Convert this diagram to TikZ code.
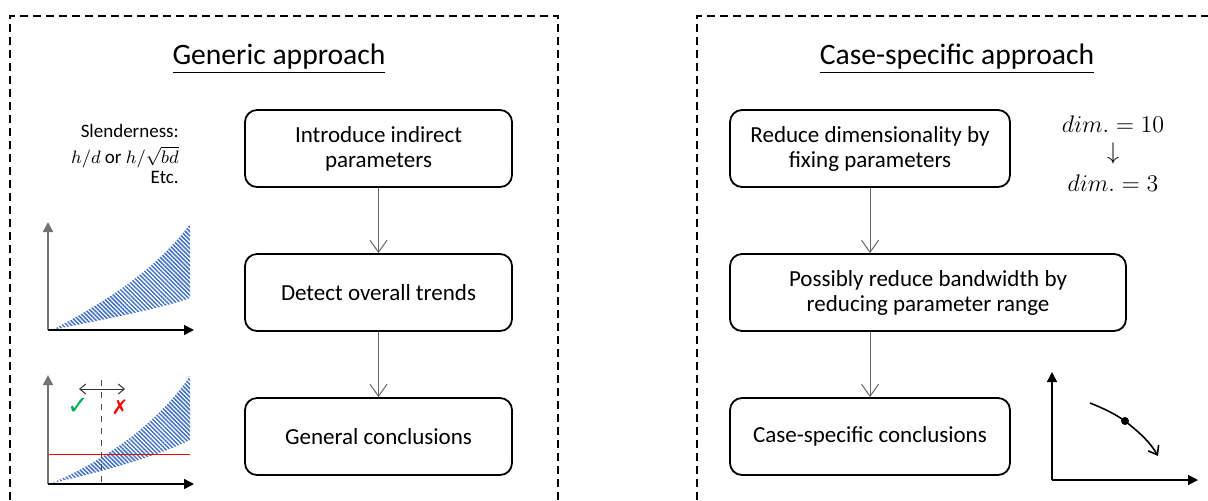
\documentclass[tikz,border=0pt]{standalone}
\usepackage{amsmath}
\usepackage{fontspec}
\setmainfont{Carlito}
\newfontfamily\symfont{DejaVu Sans}
\usepackage{tikz}
\usetikzlibrary{positioning}
\usetikzlibrary{calc}
\usetikzlibrary{arrows.meta}
\usetikzlibrary{patterns.meta}
\definecolor{hatchblue}{RGB}{68,114,196}
\definecolor{okgreen}{RGB}{0,176,80}
\tikzset{every picture/.style={line width=0.6pt}}

\begin{document}
\begin{tikzpicture}[x=0.5pt,y=-0.5pt,
stepbox/.style={draw, line width=0.9pt, rounded corners=6pt, align=center, font=\fontsize{11.5}{12.5}\selectfont, minimum height=38.5pt, minimum width=133.5pt},
frame/.style={dash pattern=on 4pt off 2.5pt, line width=0.6pt},
flow/.style={draw=black!60, line width=0.5pt, -{Straight Barb[length=6pt,width=8.5pt]}},
axis/.style={line width=0.8pt, -{Triangle[length=5pt,width=5pt]}},
band/.style={pattern={Lines[angle=-45,distance=1.5pt,line width=0.75pt]}, pattern color=hatchblue},
title/.style={font=\fontsize{14.8}{16}\selectfont}]
\useasboundingbox (0,0) rectangle (1208,500);
% dashed frames
\draw[frame] (10,500) -- (10,16) -- (558,16) -- (558,500);
\draw[frame] (697,500) -- (697,16) -- (1208,16);
\node (tgen) at (279,59) [title] {\underline{Generic approach}};
\node (tcase) at (957,59) [title] {\underline{Case-specific approach}};
% generic approach
\node (g1) at (378.5,148.5) [stepbox] {Introduce indirect\\parameters};
\node (g2) at (378.5,292.5) [stepbox] {Detect overall trends};
\node (g3) at (378.5,436.5) [stepbox] {General conclusions};
\draw[flow] (g1) -- (g2);
\draw[flow] (g2) -- (g3);
\node (slen) at (186,154) [anchor=east, align=right, font=\fontsize{9.5}{11}\selectfont] {Slenderness:\\[2pt]$h/d$ or $h/\sqrt{bd}$\\[-1pt]Etc.};
% chart with band
\coordinate (o1) at (48,330);
\fill[band] (52,330) .. controls (110,318) and (160,309) .. (190,298) -- (190,224) .. controls (160,265) and (110,300) .. (52,330);
\draw[axis, draw=black!55] (o1) -- (48,222);
\draw[axis] (o1) -- (194,330);
% chart with limit
\coordinate (o2) at (48,484);
\fill[band] (52,483) .. controls (110,470) and (160,455) .. (190,440) -- (190,376) .. controls (160,420) and (110,458) .. (52,483);
\draw[red, line width=0.45pt] (48,454) -- (190,454);
\draw[dashed, line width=0.5pt, black!70] (101,380) -- (101,484);
\draw[<->, >={Straight Barb[length=3pt,width=5pt]}, line width=0.5pt, black!80] (79,389) -- (125,389);
\node (ok) at (78,406) [text=okgreen, font=\symfont\fontsize{13}{14}\selectfont] {✓};
\node (no) at (120,407) [text=red, font=\symfont\bfseries\fontsize{10}{11}\selectfont] {✗};
\draw[axis, draw=black!55] (o2) -- (48,375);
\draw[axis] (o2) -- (194,484);
% case-specific approach
\node (c1) at (870,148.5) [stepbox, minimum width=140pt] {Reduce dimensionality by\\fixing parameters};
\node (c2) at (928,292.5) [stepbox, minimum width=198pt] {Possibly reduce bandwidth by\\reducing parameter range};
\node (c3) at (870,436.5) [stepbox, minimum width=140pt] {Case-specific conclusions};
\draw[flow] (c1.south) -- (c1.south |- c2.north);
\draw[flow] (c1.south |- c2.south) -- (c3.north);
\node (d10) at (1113,124) [font=\fontsize{12.5}{14}\selectfont] {$dim.=10$};
\node (dar) [below=-2pt of d10, font=\fontsize{12}{14}\selectfont] {$\downarrow$};
\node (d3) at (1113,183) [font=\fontsize{12.5}{14}\selectfont] {$dim.=3$};
% chart with path
\coordinate (o3) at (1052,480);
\draw[axis] (o3) -- (1052,372);
\draw[axis] (o3) -- (1198,480);
\coordinate (pt) at (1125,421);
\draw[line width=0.8pt, -{Straight Barb[length=4pt,width=6pt]}] (1090,403) .. controls (1105,409) and (1115,414) .. (pt) .. controls (1140,433) and (1150,442) .. (1158,456);
\fill (pt) circle (2pt);
\end{tikzpicture}
\end{document}
